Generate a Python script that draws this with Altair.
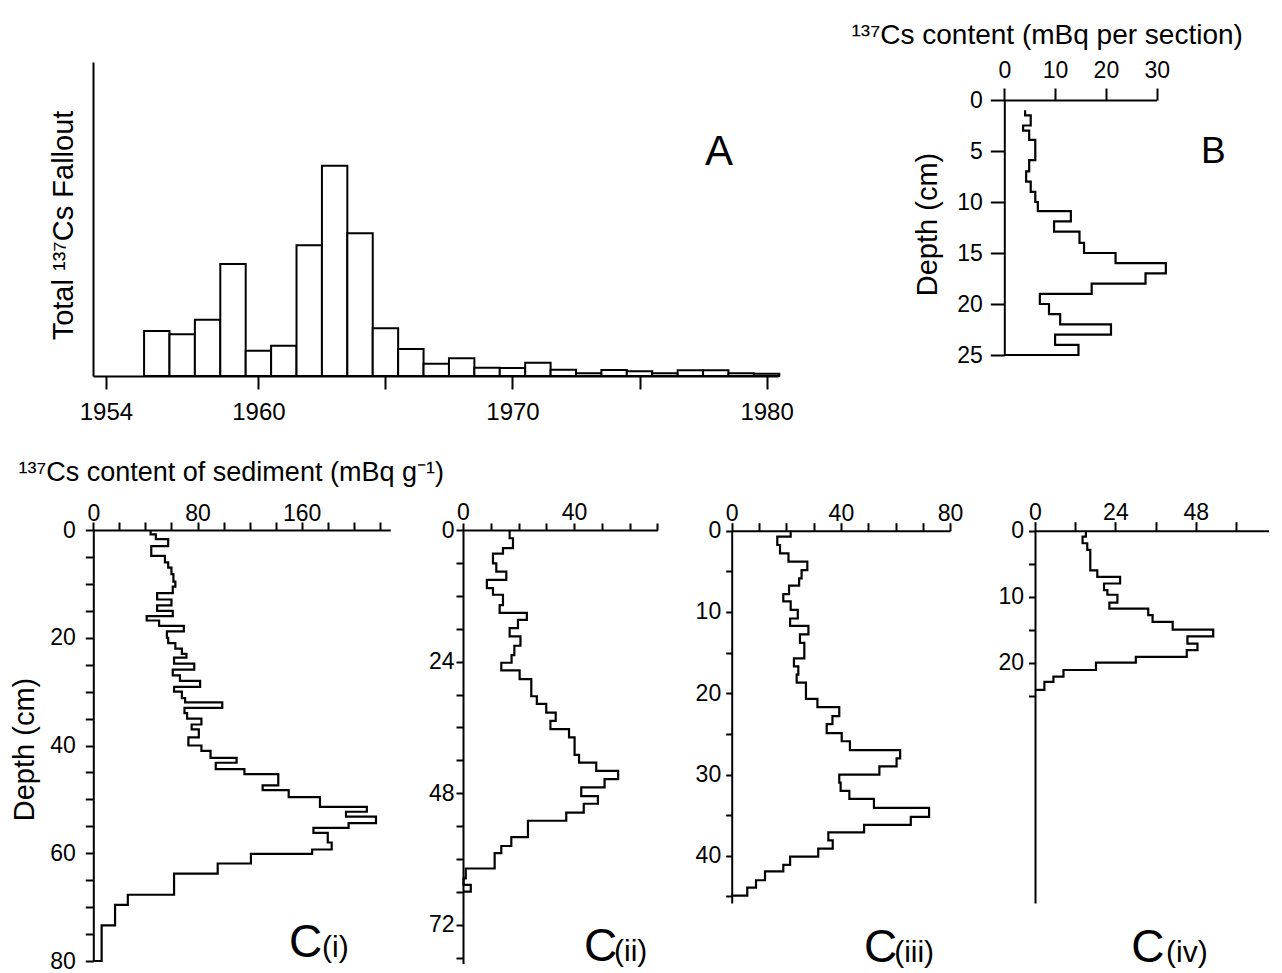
import altair as alt
import pandas as pd

FONT = "Liberation Sans"

# ---------------- data ----------------
# Panel A: total 137Cs fallout per year (relative units, no scale given)
fallout_years = list(range(1956, 1981))
fallout_values = [45, 41.7, 56.3, 112, 25.3, 30.3, 130.7, 210.3, 142.7, 47.7,
                  27, 12.3, 17.7, 8.3, 8, 13.3, 6.3, 2.7, 6, 4.7,
                  2.7, 5.7, 5.7, 2.7, 2.3]

# Panel B: 137Cs content (mBq per section) vs depth (section boundaries, cm)
b_depth = [1.0, 1.5, 2.5, 3.0, 3.9, 5.9, 7.0, 8.0, 9.0, 10.0, 10.9, 11.9, 12.9,
           14.0, 15.0, 16.0, 17.0, 18.0, 19.0, 20.0, 21.0, 22.0, 23.0, 24.0, 25.0]
b_cs = [4.1, 5.2, 3.7, 4.9, 6.1, 4.9, 4.3, 5.2, 6.1, 6.6, 13.1, 9.8, 14.8,
        15.7, 21.9, 31.8, 27.8, 17.2, 7.0, 8.8, 11.0, 21.0, 10.0, 14.6]

# Panel C(i)
c1_depth = [0, 0.8, 1.7, 3.0, 4.8, 6.0, 7.0, 8.2, 9.6, 10.5, 11.7, 12.9, 14.0, 15.0,
            16.0, 16.8, 17.8, 18.8, 20.0, 21.0, 22.0, 23.0, 23.7, 24.8, 25.9, 27.0,
            28.0, 29.1, 30.0, 31.2, 32.0, 33.0, 34.0, 35.0, 36.1, 37.0, 38.5, 40.0,
            41.0, 42.3, 43.2, 44.4, 45.3, 47.4, 48.3, 49.6, 51.4, 52.3, 53.2, 54.4,
            55.3, 56.2, 58.0, 59.3, 60.1, 61.9, 63.8, 67.7, 69.6, 73.4, 80.0]
c1_cs = [44, 48, 57.5, 44.5, 55, 57.5, 60, 61.5, 63, 61,
         49, 60, 49, 61, 41, 50.5, 69.5, 56.5, 57.5, 63,
         68, 71.5, 62, 77.5, 61, 66.5, 82, 62, 68, 70.5,
         99, 70, 72, 83, 75.5, 81, 73, 83, 90, 110,
         94, 116, 142, 130, 150, 174, 210, 194, 217, 196,
         169, 180, 183, 168, 121, 95.5, 62, 26.5, 16.7, 6.4]

# Panel C(ii)
c2_depth = [0, 1.5, 3.3, 4.3, 6.1, 7.6, 9.1, 10.6, 11.8, 13.7, 15.1, 16.4, 17.9, 19.4,
            21.1, 22.8, 24.2, 25.6, 27.2, 30.3, 31.7, 33.3, 34.8, 36.3, 37.8, 41.0,
            42.4, 43.9, 45.4, 46.9, 48.5, 49.9, 51.5, 53.0, 56.0, 57.6, 58.9, 61.7,
            63.5, 64.7, 65.9]
c2_cs = [16.8, 18, 14.4, 10.8, 12, 15.6, 8.6, 10.8, 14.4, 13.2,
         23, 19.8, 16.8, 20.7, 18.5, 17.5, 13.8, 20.4, 24.6, 26.6,
         30, 33.4, 31.5, 38.2, 40.2, 41.8, 48, 55.9, 51, 42.6,
         48.6, 43.5, 37.2, 23.4, 17.4, 13.8, 11.4, 1.0, 0.2, 2.8]

# Panel C(iii)
c3_depth = [0, 0.74, 1.76, 2.8, 3.8, 4.84, 5.86, 6.76, 7.8, 8.7, 9.75, 10.8, 11.7,
            12.75, 13.8, 15.7, 16.7, 17.7, 18.7, 20.7, 21.7, 22.8, 23.8, 24.9, 25.9,
            27.0, 28.0, 29.0, 30.0, 31.0, 32.0, 33.0, 34.1, 35.2, 36.2, 37.1, 38.1,
            39.1, 40.1, 41.1, 41.9, 43.0, 43.9, 44.9]
c3_cs = [21.6, 16.7, 17.7, 20.8, 27.7, 25.6, 24.7, 21, 18.9, 21.6,
         24.2, 21.4, 28.1, 25, 26.6, 22.8, 24.4, 23.8, 27.2, 31.4,
         39.4, 36.9, 34.8, 40.3, 43.3, 61.7, 60.4, 54.1, 39.4, 39.9,
         43.1, 52.1, 72.3, 65.6, 48.5, 35.4, 37, 31.7, 21.4, 18.9,
         12.2, 8.9, 5.7]

# Panel C(iv)
c4_depth = [0, 0.9, 1.9, 2.9, 6.0, 7.0, 8.0, 9.0, 9.7, 10.9, 11.8, 12.8, 13.8, 15.0,
            16.0, 17.1, 18.1, 19.1, 20.0, 21.1, 22.1, 22.9, 24.1]
c4_cs = [15.2, 14.2, 15.6, 16.5, 18.6, 25.4, 20.6, 21.6, 24.6, 22.2,
         33.8, 35.1, 41.1, 53.2, 45.5, 48.5, 45.3, 30.1, 18.2, 8.5, 5.5, 2.8]

# ---------------- helpers ----------------
W, H = 1266, 965


def gx(x):  # page x -> plot x
    return x - 8


def gy(y):  # page y -> plot y
    return y - 8


def step_frame(bounds, values, close=True):
    vs, ds = [], []
    for i, v in enumerate(values):
        vs += [v, v]
        ds += [bounds[i], bounds[i + 1]]
    if close:
        vs.append(0)
        ds.append(bounds[-1])
    return pd.DataFrame({"v": vs, "d": ds, "o": list(range(len(vs)))})


def seq(lo, hi, step):
    out, v = [], lo
    while v <= hi + 1e-9:
        out.append(v)
        v += step
    return out


def top_axis(axis_y, values, every, tick, pad, **kw):
    return alt.Axis(orient="top", offset=-gy(axis_y), values=values,
                    labelExpr=f"datum.value % {every} == 0 ? datum.label : ''",
                    tickSize=tick, labelPadding=pad, labelBaseline="alphabetic", **kw)


def left_axis(axis_x, values, every, tick, pad, **kw):
    return alt.Axis(orient="left", offset=-gx(axis_x), values=values,
                    labelExpr=f"datum.value % {every} == 0 ? datum.label : ''",
                    tickSize=tick, labelPadding=pad, **kw)


def profile_panel(df, xdom, xr, ydom, yr, xaxis, yaxis, labels):
    def xs():
        return alt.Scale(domain=xdom, range=[gx(xr[0]), gx(xr[1])], nice=False, zero=False)

    def ys():
        return alt.Scale(domain=ydom, range=[gy(yr[0]), gy(yr[1])], nice=False, zero=False)

    line = alt.Chart(df).mark_line(color="black", strokeWidth=2.2, strokeJoin="miter").encode(
        x=alt.X("v:Q", scale=xs(), axis=xaxis),
        y=alt.Y("d:Q", scale=ys(), axis=yaxis),
        order="o:Q",
    )
    txt = alt.Chart(labels).mark_text(font=FONT, align="left", baseline="alphabetic",
                                      color="black").encode(
        x=alt.X("v:Q", scale=xs(), axis=None),
        y=alt.Y("d:Q", scale=ys(), axis=None),
        text="t:N",
        size=alt.Size("fs:Q", scale=None, legend=None),
    )
    return [line, txt]


def lab(items):
    return pd.DataFrame(items, columns=["v", "d", "t", "fs"])


# ---------------- Panel A ----------------
a_df = pd.DataFrame({"year": fallout_years, "f": fallout_values})
a_df["y0"] = a_df["year"] - 0.5
a_df["y1"] = a_df["year"] + 0.5


def xa():
    return alt.Scale(domain=[1953.49, 1980.45], range=[gx(93), gx(778)], nice=False, zero=False)


def ya():
    return alt.Scale(domain=[0, 314], range=[gy(376), gy(62)], nice=False, zero=False)


bars = alt.Chart(a_df).mark_bar(fill="white", stroke="black", strokeWidth=2).encode(
    x=alt.X("y0:Q", scale=xa(), axis=alt.Axis(
        orient="bottom", offset=gy(376) - H, values=[1954, 1960, 1965, 1970, 1975, 1980],
        format="d", labelExpr="datum.value == 1965 || datum.value == 1975 ? '' : datum.label",
        tickSize=13, labelPadding=30, labelBaseline="alphabetic", labelFontSize=24, title=None)),
    x2="y1:Q",
    y=alt.Y("f:Q", scale=ya(), axis=alt.Axis(
        orient="left", offset=-gx(93), ticks=False, labels=False,
        title="Total \u00b9\u00b3\u2077Cs Fallout", titleAngle=270, titleX=-21,
        titleY=gy(225), titleBaseline="alphabetic", titleAlign="center", titleFontSize=29)),
    y2=alt.datum(0),
)
a_txt = alt.Chart(pd.DataFrame({"x": [1977.58], "y": [211], "t": ["A"]})).mark_text(
    font=FONT, fontSize=42, align="left", baseline="alphabetic", color="black").encode(
    x=alt.X("x:Q", scale=xa(), axis=None), y=alt.Y("y:Q", scale=ya(), axis=None), text="t:N")

# ---------------- Panel B ----------------
layers_b = profile_panel(
    step_frame(b_depth, b_cs), [0, 30], (1004.3, 1156.7), [0, 25], (100, 355),
    top_axis(100, [0, 10, 20, 30], 10, 12, 11, labelFontSize=23,
             title="\u00b9\u00b3\u2077Cs content (mBq per section)", titleX=gx(851),
             titleY=-57, titleAlign="left", titleBaseline="alphabetic", titleFontSize=28),
    left_axis(1004.3, seq(0, 25, 5), 5, 14, 8, labelFontSize=23,
              title="Depth (cm)", titleAngle=270, titleX=-68, titleY=gy(224),
              titleBaseline="alphabetic", titleAlign="center", titleFontSize=29),
    lab([(38.7, 6.2, "B", 37)]),
)

# ---------------- Panels C ----------------
layers_c1 = profile_panel(
    step_frame(c1_depth, c1_cs), [0, 228], (93.3, 390.3), [0, 80], (530, 961),
    top_axis(530, seq(0, 220, 20), 80, 8, 2,
             title="\u00b9\u00b3\u2077Cs content of sediment (mBq g\u207b\u00b9)",
             titleX=gx(18), titleY=-50, titleAlign="left", titleBaseline="alphabetic",
             titleFontSize=27),
    left_axis(93.3, seq(0, 80, 5), 20, 8, 10,
              title="Depth (cm)", titleAngle=270, titleX=-60, titleY=gy(749),
              titleBaseline="alphabetic", titleAlign="center", titleFontSize=29),
    lab([(150.3, 79.3, "C", 46), (175.6, 79.3, "(i)", 30)]),
)

layers_c2 = profile_panel(
    step_frame(c2_depth, c2_cs), [0, 70], (463, 657.3), [0, 79], (530, 963.4),
    top_axis(530, seq(0, 70, 10), 40, 7, 4, title=None),
    left_axis(463, seq(0, 78, 6), 24, 7, 2, title=None),
    lab([(43.6, 78.5, "C", 46), (54.4, 78.5, "(ii)", 30)]),
)

layers_c3 = profile_panel(
    step_frame(c3_depth, c3_cs), [0, 80], (731.7, 950.1), [0, 45.8], (530.7, 903),
    top_axis(530.7, seq(0, 80, 10), 40, 8, 2.5, title=None),
    left_axis(731.7, seq(0, 45, 5), 10, 6, 5, title=None),
    lab([(48.5, 53.0, "C", 46), (59.5, 53.0, "(iii)", 30)]),
)

layers_c4 = profile_panel(
    step_frame(c4_depth, c4_cs), [0, 69.7], (1035, 1268.5), [0, 56.4], (530.7, 903),
    top_axis(530.7, seq(0, 60, 12), 24, 9, 2.5, title=None),
    left_axis(1035, seq(0, 25, 5), 10, 6.5, 5, title=None),
    lab([(28.7, 65.3, "C", 46), (39.1, 65.3, "(iv)", 30)]),
)

all_layers = [bars, a_txt] + layers_b + layers_c1 + layers_c2 + layers_c3 + layers_c4

chart = alt.layer(*all_layers).resolve_scale(
    x="independent", y="independent"
).properties(
    width=W, height=H, autosize=alt.AutoSizeParams(type="none"), padding=0, background="white"
).configure_view(stroke=None).configure_axis(
    grid=False, domainColor="black", domainWidth=2, tickColor="black", tickWidth=2,
    labelColor="black", labelFont=FONT, labelFontSize=23, titleFont=FONT,
    titleFontWeight="normal", titleColor="black", labelFlush=False, labelOverlap=False,
)

chart.save("out.html", embed_options={"renderer": "svg", "actions": False})
